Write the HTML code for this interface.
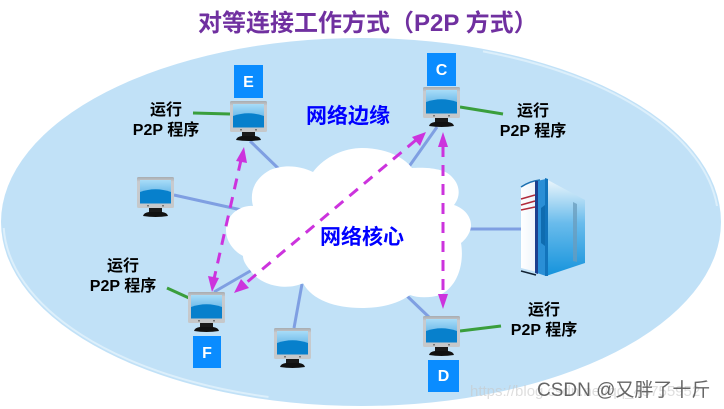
<!DOCTYPE html>
<html><head><meta charset="utf-8"><style>
html,body{margin:0;padding:0;background:#fff;width:724px;height:409px;overflow:hidden}
svg{display:block}
text{font-family:"Liberation Sans","Noto Sans CJK SC",sans-serif}
.l{font-size:16px;font-weight:bold;fill:#000;text-anchor:middle}
.b{font-size:16px;font-weight:bold;fill:#fff;text-anchor:middle}
.n{font-size:21px;font-weight:bold;fill:#0000ff}
</style></head><body>
<svg width="724" height="409" viewBox="0 0 724 409" xmlns="http://www.w3.org/2000/svg">
<defs>
<linearGradient id="sc" x1="0" y1="0" x2="0" y2="1"><stop offset="0" stop-color="#a8dcf8"/><stop offset="1" stop-color="#3f9fdd"/></linearGradient>
<linearGradient id="fr" x1="0" y1="0" x2="0" y2="1"><stop offset="0" stop-color="#a8acb0"/><stop offset=".15" stop-color="#c8cace"/><stop offset="1" stop-color="#c6c8ca"/></linearGradient>
<linearGradient id="sf" x1="0" y1="0" x2="0" y2="1"><stop offset="0" stop-color="#eef7fc"/><stop offset=".45" stop-color="#6abcec"/><stop offset="1" stop-color="#1593dc"/></linearGradient>
<linearGradient id="sl" x1="0" y1="0" x2="1" y2="0"><stop offset="0" stop-color="#fff"/><stop offset=".6" stop-color="#eef4fa"/><stop offset="1" stop-color="#9cc4e6"/></linearGradient>
<g id="m">
<rect x="0" y="0" width="37" height="31" rx="1.500" fill="url(#fr)"/>
<rect x="3" y="3" width="31" height="23.500" fill="url(#sc)"/>
<path d="M3 15 Q18.500 9.500 34 15 L34 26.500 L3 26.500Z" fill="#0780cc"/>
<rect x="10" y="28" width="2" height="1.500" fill="#777"/><rect x="25" y="28" width="2" height="1.500" fill="#777"/>
<rect x="12" y="31" width="13" height="4" fill="#1a1a1a"/>
<path d="M6 39 Q7 35.500 12 35 L25 35 Q30 35.500 31 39 Q18.500 41 6 39Z" fill="#111"/>
</g>
</defs>
<rect width="724" height="409" fill="#fff"/>
<ellipse cx="361" cy="222" rx="360" ry="184" fill="#c1e1f7"/>
<g fill="none" stroke="#dceffb" stroke-width="2">
<path d="M483 51.400 A357.500 181.500 0 0 1 717 206"/>
<path d="M3.700 228 A357.500 181.500 0 0 0 268.500 397"/>
</g>

<g stroke="#7f9fe2" stroke-width="3" fill="none">
<path d="M250 141L282 172"/><path d="M437 127L408 168"/><path d="M174 195L246 211"/>
<path d="M214 292L252 270"/><path d="M302 284L294 328"/><path d="M406 295L431 319"/><path d="M468 229L521 229"/>
</g>

<path fill="#fff" d="M313 172 C325 156 345 148 362 148 C382 148 402 155 412 168 C425 167 445 168 452 177 C460 185 461 196 454 205 C466 209 471 218 471 225 C471 233 465 240 461 243 C464 260 460 285 440 295 C430 298 418 298 410 295 C395 306 375 308 362 308 C335 308 312 300 303 283 C290 290 262 288 250 270 C245 264 243 260 243 256 C232 250 226 240 226 230 C226 215 240 205 253 206 C250 195 252 180 270 170 C285 164 300 166 313 172Z"/>

<g stroke="#3a9e3c" stroke-width="3" fill="none">
<path d="M193 113L230 114"/><path d="M460 107L503 114"/><path d="M167 288L189 298"/><path d="M460 331L501 326"/>
</g>

<use href="#m" x="230" y="101"/>
<use href="#m" x="423" y="87"/>
<use href="#m" x="188" y="292"/>
<use href="#m" x="423" y="316"/>
<use href="#m" x="137" y="177"/>
<use href="#m" x="274" y="328"/>

<g>
<path d="M521 187 Q530 181 546 179 L546 276 L537 272 L521 268Z" fill="url(#sl)"/>
<path d="M521 187 Q530 181 540 180" fill="none" stroke="#1b6fb0" stroke-width="1.500"/>
<path d="M521 271 L536 275" fill="none" stroke="#123" stroke-width="1.500"/>
<path d="M537 181 L546 179 L546 276 L537 273Z" fill="#2a8fd6"/>
<path d="M535 181 L538 181 L538 274 L535 273Z" fill="#1c3f8e"/>
<path d="M546 179 L585 200 L585 263 L546 276Z" fill="url(#sf)"/>
<path d="M545 178 L548 179 L548 276 L545 276Z" fill="#1274bc"/>
<path d="M541 208 L545 205 L545 246 L541 243Z" fill="#0f6cb0"/>
<path d="M573 202 L577 204 L577 262 L573 261Z" fill="#6a9cbc" opacity=".75"/>
<g stroke="#b02c3c" stroke-width="1.500" fill="none">
<path d="M521 199 L535 195"/><path d="M521 205 L535 201"/><path d="M521 210 L535 207"/>
</g>
</g>

<g stroke="#cc33dd" stroke-width="3" fill="none" stroke-dasharray="11 8">
<path d="M241 160L214 279"/>
<path d="M416 140L246 283"/>
<path d="M443 146L443 296"/>
</g>
<g fill="#cc33dd">
<path d="M244 147L247 163L236 161Z"/>
<path d="M212 292L208 276L219 278Z"/>
<path d="M426 132L420 146L412 137Z"/>
<path d="M234 293L241 279L249 288Z"/>
<path d="M443 132L448 147L438 147Z"/>
<path d="M443 309L438 294L448 294Z"/>
</g>

<rect x="234" y="65" width="29" height="33" fill="#0a8cff"/>
<rect x="427" y="53" width="29" height="33" fill="#0a8cff"/>
<rect x="193" y="336" width="28" height="32" fill="#0a8cff"/>
<rect x="428" y="360" width="31" height="32" fill="#0a8cff"/>
<text class="b" x="248.500" y="87">E</text>
<text class="b" x="441.500" y="75">C</text>
<text class="b" x="207" y="358">F</text>
<text class="b" x="443.500" y="381">D</text>

<text class="l" x="166" y="115">运行</text><text class="l" x="166" y="135">P2P 程序</text>
<text class="l" x="533" y="116">运行</text><text class="l" x="533" y="136">P2P 程序</text>
<text class="l" x="123" y="271">运行</text><text class="l" x="123" y="291">P2P 程序</text>
<text class="l" x="544" y="315">运行</text><text class="l" x="544" y="335">P2P 程序</text>

<text x="198" y="31" font-size="24" font-weight="bold" fill="#7030a0">对等连接工作方式（P2P 方式）</text>
<text class="n" x="306" y="123">网络边缘</text>
<text class="n" x="320" y="244">网络核心</text>

<text x="470" y="396" font-size="15" fill="#c8c8c8" fill-opacity=".6">https://blog.csdn.net/qq_45755952</text>
<text x="537" y="396" font-size="19" fill="#555" fill-opacity=".9">CSDN @又胖了十斤</text>
</svg>
</body></html>
